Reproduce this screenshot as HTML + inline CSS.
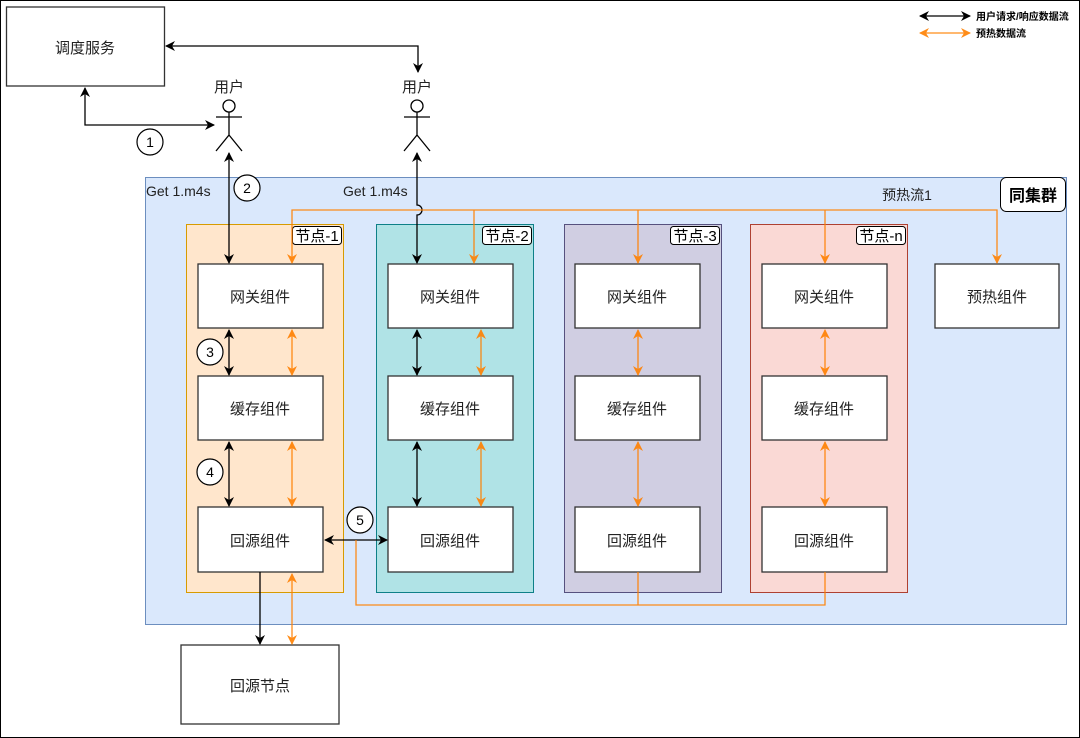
<!DOCTYPE html>
<html><head><meta charset="utf-8"><style>
html,body{margin:0;padding:0;background:#fff}
svg{display:block}
text{font-family:"Liberation Sans","Noto Sans CJK SC",sans-serif;}
</style></head><body>
<svg width="1080" height="738" viewBox="0 0 1080 738" xmlns="http://www.w3.org/2000/svg">
<defs>
<marker id="ab" markerWidth="10" markerHeight="10" refX="9" refY="5" orient="auto-start-reverse" markerUnits="userSpaceOnUse"><path d="M0,0 L10,5 L0,10 L3,5 Z" fill="#000"/></marker>
<marker id="ao" markerWidth="10" markerHeight="10" refX="9" refY="5" orient="auto-start-reverse" markerUnits="userSpaceOnUse"><path d="M0,0 L10,5 L0,10 L3,5 Z" fill="#ff8000"/></marker>
</defs>
<rect x="0.5" y="0.5" width="1079" height="737" fill="#fff" stroke="#000"/>
<rect x="145.5" y="177.5" width="921" height="447" fill="#dae8fc" stroke="#6c8ebf"/>
<rect x="1000.5" y="177.5" width="65" height="34" rx="6" fill="#fff" stroke="#000"/>
<text x="1033" y="201" font-size="16" font-weight="bold" text-anchor="middle">同集群</text>
<text x="907" y="200" font-size="14" text-anchor="middle" fill="#222">预热流1</text>
<text x="146" y="196" font-size="14" fill="#222">Get 1.m4s</text>
<text x="343" y="196" font-size="14" fill="#222">Get 1.m4s</text>
<rect x="186.5" y="224.5" width="157" height="368" fill="#ffe6cc" stroke="#d79b00"/>
<rect x="376.5" y="224.5" width="157" height="368" fill="#b0e3e6" stroke="#0e8088"/>
<rect x="564.5" y="224.5" width="157" height="368" fill="#d0cee2" stroke="#56517e"/>
<rect x="750.5" y="224.5" width="157" height="368" fill="#fad9d5" stroke="#ae4132"/>
<g font-size="15" text-anchor="middle">
<rect x="292.5" y="226.5" width="49" height="18" rx="3" fill="#fff" stroke="#000"/><text x="317" y="241">节点-1</text>
<rect x="482.5" y="226.5" width="49" height="18" rx="3" fill="#fff" stroke="#000"/><text x="507" y="241">节点-2</text>
<rect x="670.5" y="226.5" width="49" height="18" rx="3" fill="#fff" stroke="#000"/><text x="695" y="241">节点-3</text>
<rect x="856.5" y="226.5" width="49" height="18" rx="3" fill="#fff" stroke="#000"/><text x="881" y="241">节点-n</text>
</g>
<g fill="#fff" stroke="#333" stroke-width="1.3">
<rect x="198" y="264" width="125" height="64"/><rect x="198" y="376" width="125" height="64"/><rect x="198" y="507" width="125" height="65"/>
<rect x="388" y="264" width="125" height="64"/><rect x="388" y="376" width="125" height="64"/><rect x="388" y="507" width="125" height="65"/>
<rect x="575" y="264" width="125" height="64"/><rect x="575" y="376" width="125" height="64"/><rect x="575" y="507" width="125" height="65"/>
<rect x="762" y="264" width="125" height="64"/><rect x="762" y="376" width="125" height="64"/><rect x="762" y="507" width="125" height="65"/>
<rect x="935" y="264" width="124" height="64"/>
<rect x="181" y="645" width="158" height="79"/>
<rect x="6.5" y="7" width="158" height="79"/>
</g>
<g font-size="15" text-anchor="middle" fill="#222">
<text x="260" y="302">网关组件</text><text x="260" y="414">缓存组件</text><text x="260" y="546">回源组件</text>
<text x="450" y="302">网关组件</text><text x="450" y="414">缓存组件</text><text x="450" y="546">回源组件</text>
<text x="637" y="302">网关组件</text><text x="637" y="414">缓存组件</text><text x="637" y="546">回源组件</text>
<text x="824" y="302">网关组件</text><text x="824" y="414">缓存组件</text><text x="824" y="546">回源组件</text>
<text x="997" y="302">预热组件</text>
<text x="260" y="691">回源节点</text>
<text x="85" y="53">调度服务</text>
<text x="229" y="92">用户</text>
<text x="417" y="92">用户</text>
</g>
<g fill="#fff" stroke="#000" stroke-width="1.3">
<circle cx="229" cy="106" r="6"/><path d="M216,117H242M229,112V135L216,151M229,135L242,151" fill="none"/>
<circle cx="417" cy="106" r="6"/><path d="M404,117H430M417,112V135L404,151M417,135L430,151" fill="none"/>
</g>
<g stroke="#000" stroke-width="1.3" fill="none">
<path d="M85,88V125H214" marker-start="url(#ab)" marker-end="url(#ab)"/>
<path d="M166,46H418V72" marker-start="url(#ab)" marker-end="url(#ab)"/>
<path d="M229,153V263" marker-start="url(#ab)" marker-end="url(#ab)"/>
<path d="M417,153V205A5,5 0 0 1 417,215V263" marker-start="url(#ab)" marker-end="url(#ab)"/>
<path d="M229,330V375" marker-start="url(#ab)" marker-end="url(#ab)"/>
<path d="M229,442V506" marker-start="url(#ab)" marker-end="url(#ab)"/>
<path d="M417,330V375" marker-start="url(#ab)" marker-end="url(#ab)"/>
<path d="M417,442V506" marker-start="url(#ab)" marker-end="url(#ab)"/>
<path d="M325,540H387" marker-start="url(#ab)" marker-end="url(#ab)"/>
<path d="M260,572V644" marker-end="url(#ab)"/>
<path d="M920,16H970" marker-start="url(#ab)" marker-end="url(#ab)"/>
</g>
<g stroke="#ff8000" stroke-width="1.3" fill="none" opacity="0.9">
<path d="M292,263V210H997V263" marker-start="url(#ao)" marker-end="url(#ao)"/>
<path d="M474,210V263" marker-end="url(#ao)"/>
<path d="M638,210V263" marker-end="url(#ao)"/>
<path d="M825,210V263" marker-end="url(#ao)"/>
<path d="M292,330V375" marker-start="url(#ao)" marker-end="url(#ao)"/>
<path d="M292,442V506" marker-start="url(#ao)" marker-end="url(#ao)"/>
<path d="M481,330V375" marker-start="url(#ao)" marker-end="url(#ao)"/>
<path d="M481,442V506" marker-start="url(#ao)" marker-end="url(#ao)"/>
<path d="M638,330V375" marker-start="url(#ao)" marker-end="url(#ao)"/>
<path d="M638,442V506" marker-start="url(#ao)" marker-end="url(#ao)"/>
<path d="M825,330V375" marker-start="url(#ao)" marker-end="url(#ao)"/>
<path d="M825,442V506" marker-start="url(#ao)" marker-end="url(#ao)"/>
<path d="M292,574V644" marker-start="url(#ao)" marker-end="url(#ao)"/>
<path d="M356,540V605H825V572M638,605V572"/>
<path d="M920,33H970" marker-start="url(#ao)" marker-end="url(#ao)"/>
</g>
<g fill="#fff" stroke="#000" stroke-width="1.2">
<circle cx="150" cy="142" r="13"/><circle cx="247" cy="188" r="13"/><circle cx="210" cy="352" r="13"/><circle cx="210" cy="472" r="13"/><circle cx="360" cy="520" r="13"/>
</g>
<g font-size="14" text-anchor="middle">
<text x="150" y="147">1</text><text x="247" y="193">2</text><text x="210" y="357">3</text><text x="210" y="477">4</text><text x="360" y="525">5</text>
</g>
<g font-size="10" font-weight="bold">
<text x="976" y="20">用户请求/响应数据流</text>
<text x="976" y="37">预热数据流</text>
</g>
</svg>
</body></html>
